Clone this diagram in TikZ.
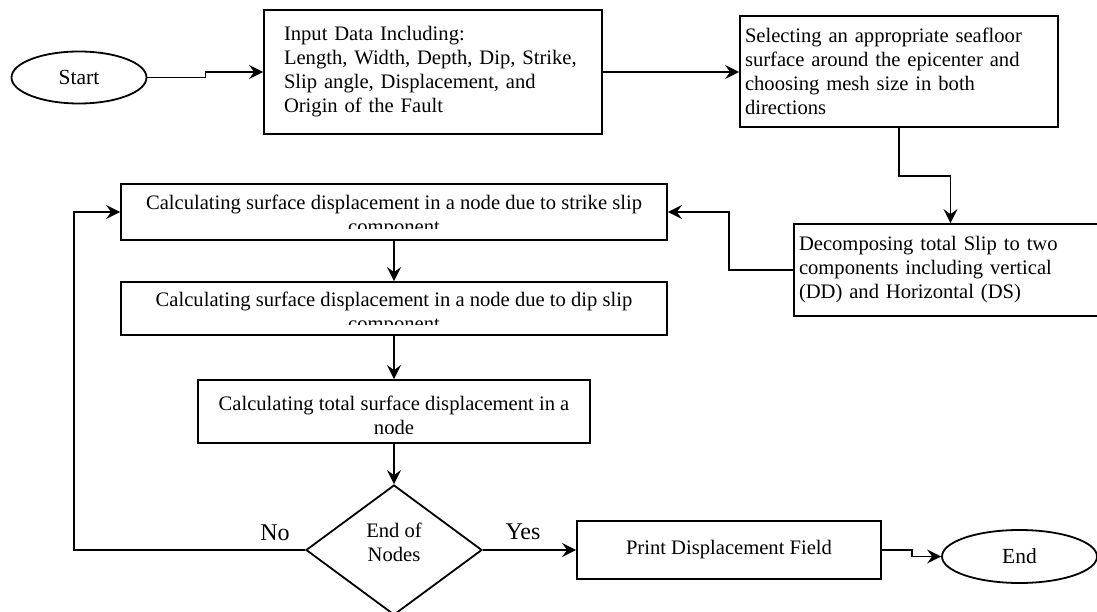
\documentclass[tikz,border=0pt]{standalone}
\usepackage{fontspec}
\setmainfont{Liberation Serif}
\usetikzlibrary{shapes.geometric,arrows.meta}

\begin{document}
\begin{tikzpicture}[x=1pt, y=-1pt, line width=1.8pt,
  every node/.style={font=\fontsize{20.6}{24}\selectfont, inner sep=0pt},
  procbox/.style={draw, rectangle, align=left, inner xsep=5pt},
  calcbox/.style={draw, rectangle, minimum width=546pt},
  termnode/.style={draw, ellipse},
  decide/.style={draw, diamond, minimum width=176pt, minimum height=130pt},
  answer/.style={font=\fontsize{24}{28}\selectfont},
  flow/.style={-{Stealth[length=14pt, width=14pt, inset=5pt]}}]

\useasboundingbox (0,0) rectangle (1097,612);

\node [termnode, minimum width=135pt, minimum height=52pt, font=\fontsize{21.5}{24}\selectfont] (start) at (79,77.5) {Start};
\node [procbox, text width=298pt, inner xsep=20pt, minimum height=124pt] (input) at (433,72)
  {Input Data Including:\\Length, Width, Depth, Dip, Strike,\\Slip angle, Displacement, and\\Origin of the Fault};
\node [procbox, text width=308pt, minimum height=111pt] (select) at (899,71.5)
  {Selecting an appropriate seafloor\\surface around the epicenter and\\choosing mesh size in both\\directions};
\node [procbox, text width=303pt, minimum height=92pt] (decomp) at (950.5,270)
  {Decomposing total Slip to two\\components including vertical\\(DD) and Horizontal (DS)};

% text runs past the bottom of these boxes
\begin{scope}
\clip (121,184) rectangle (667,229);
\node [align=center] (calcAtext) at (394,216)
  {Calculating surface displacement in a node due to strike slip\\component};
\end{scope}
\begin{scope}
\clip (121,282) rectangle (667,324);
\node [align=center] (calcBtext) at (394,313.5)
  {Calculating surface displacement in a node due to dip slip\\component};
\end{scope}
\begin{scope}
\clip (198,380) rectangle (590,433);
\node [align=center] (calcCtext) at (394,415)
  {Calculating total surface displacement in a\\node};
\end{scope}
\node [calcbox, minimum height=56pt] (calcA) at (394,212) {};
\node [calcbox, minimum height=53pt] (calcB) at (394,308.5) {};
\node [calcbox, minimum width=392pt, minimum height=63pt] (calcC) at (394,411.5) {};

\node [decide] (endq) at (394,550) {};
\node [align=center] (endqtext) at (394,542) {End of\\Nodes};
\node [answer] (nolabel) at (275,533) {No};
\node [answer] (yeslabel) at (523,532) {Yes};

\node [draw, minimum width=304pt, minimum height=58pt] (print) at (729,550) {Print Displacement Field};
\node [termnode, minimum width=155pt, minimum height=53pt, font=\fontsize{21.5}{24}\selectfont] (finish) at (1019.5,556.5) {End};

\draw [flow] (start.east) -- ++(58,0) |- (input.west);
\draw [flow] (input.east) -- (input.east -| select.west);
\draw [flow] (select.south) -- ++(0,48) -| (decomp.north);
\draw [flow] (decomp.west) -- ++(-64,0) |- (calcA.east);
\draw [flow] (calcA.south) -- (calcB.north);
\draw [flow] (calcB.south) -- (calcC.north);
\draw [flow] (calcC.south) -- (endq.north);
\draw [flow] (endq.west) -- ++(-231.5,0) |- (calcA.west);
\draw [flow] (endq.east) -- ++(47,0) |- (print.west);
\draw [flow] (print.east) -- ++(30,0) |- (finish.west);

\end{tikzpicture}
\end{document}
